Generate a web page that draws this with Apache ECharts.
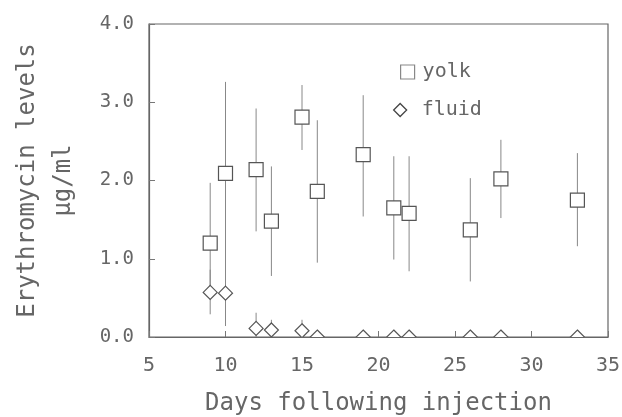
<!DOCTYPE html>
<html>
<head>
<meta charset="utf-8">
<script src="https://cdn.jsdelivr.net/npm/echarts@6/dist/echarts.min.js"></script>
<style>
  html, body { margin: 0; padding: 0; background: #fff; }
  #chart { width: 622px; height: 417px; }
</style>
</head>
<body>
<div id="chart"></div>
<script>
// yolk: mean with low/high of the error bar
const yolkDays = [9, 10, 12, 13, 15, 16, 19, 21, 22, 26, 28, 33];
const yolkMean = [1.2, 2.09, 2.14, 1.48, 2.81, 1.86, 2.33, 1.65, 1.58, 1.37, 2.02, 1.75];
const yolkLow = [0.5, 0.92, 1.35, 0.78, 2.39, 0.95, 1.54, 0.99, 0.84, 0.71, 1.52, 1.16];
const yolkHigh = [1.97, 3.26, 2.92, 2.18, 3.22, 2.77, 3.09, 2.31, 2.31, 2.03, 2.52, 2.35];

// fluid
const fluidDays = [9, 10, 12, 13, 15, 16, 19, 21, 22, 26, 28, 33];
const fluidMean = [0.57, 0.56, 0.11, 0.09, 0.08, 0, 0, 0, 0, 0, 0, 0];
const fluidLow = [0.29, 0.14, 0, 0, 0, 0, 0, 0, 0, 0, 0, 0];
const fluidHigh = [0.86, 0.98, 0.31, 0.22, 0.22, 0, 0, 0, 0, 0, 0, 0];

const xTicks = [5, 10, 15, 20, 25, 30, 35];
const yTicks = [0, 1, 2, 3, 4];

const FONT = "DejaVu Sans Mono";
const INK = "#666";

function rows(days, mean, low, high) {
  return days.map((d, i) => [d, mean[i], low[i], high[i]]);
}

// error bar + hollow marker, cut off at the plot frame
function makeRender(shape) {
  return function (params, api) {
    const cs = params.coordSys;
    const x = api.value(0);
    const pm = api.coord([x, api.value(1)]);
    const pl = api.coord([x, api.value(2)]);
    const ph = api.coord([x, api.value(3)]);
    const s = 7;
    const markerStyle = { fill: "#fff", stroke: "#555", lineWidth: 1.2 };
    let marker;
    if (shape === "rect") {
      marker = {
        type: "rect",
        shape: { x: pm[0] - s, y: pm[1] - s, width: 2 * s, height: 2 * s },
        style: markerStyle,
      };
    } else {
      marker = {
        type: "polygon",
        shape: {
          points: [
            [pm[0], pm[1] - s],
            [pm[0] + s, pm[1]],
            [pm[0], pm[1] + s],
            [pm[0] - s, pm[1]],
          ],
        },
        style: markerStyle,
      };
    }
    return {
      type: "group",
      clipPath: {
        type: "rect",
        shape: { x: cs.x, y: cs.y, width: cs.width, height: cs.height },
      },
      children: [
        {
          type: "line",
          shape: { x1: pl[0], y1: pl[1], x2: ph[0], y2: ph[1] },
          style: { stroke: "#888", lineWidth: 1 },
        },
        marker,
      ],
    };
  };
}

const chart = echarts.init(document.getElementById("chart"));
chart.setOption({
  backgroundColor: "#fff",
  animation: false,
  textStyle: { fontFamily: FONT, color: INK },
  grid: {
    left: 149,
    right: 14,
    top: 24,
    bottom: 80,
    outerBoundsMode: "none",
    containLabel: false,
    show: true,
    borderColor: "#666",
    borderWidth: 1.2,
  },
  legend: [
    {
      left: 395,
      top: 57,
      itemWidth: 14,
      itemHeight: 14,
      textStyle: { fontFamily: FONT, fontSize: 20, color: INK, padding: [0, 0, 0, 3] },
      data: [
        {
          name: "yolk",
          icon: "rect",
          itemStyle: { color: "#fff", borderColor: "#888", borderWidth: 1.2 },
        },
      ],
    },
    {
      left: 388,
      top: 95,
      itemWidth: 13,
      itemHeight: 13,
      textStyle: { fontFamily: FONT, fontSize: 20, color: INK, padding: [0, 0, 0, 10] },
      data: [
        {
          name: "fluid",
          icon: "diamond",
          itemStyle: { color: "#fff", borderColor: "#444", borderWidth: 1.3 },
        },
      ],
    },
  ],
  xAxis: {
    type: "value",
    min: xTicks[0],
    max: xTicks[xTicks.length - 1],
    interval: 5,
    name: "Days following injection",
    nameLocation: "middle",
    nameGap: 55,
    nameTextStyle: { fontFamily: FONT, fontSize: 24, color: INK },
    axisLine: { show: true, lineStyle: { color: "#666", width: 1.2 } },
    axisTick: { show: true, inside: true, length: 6, lineStyle: { color: "#777" } },
    axisLabel: { fontFamily: FONT, fontSize: 20, color: INK, margin: 19 },
    splitLine: { show: false },
  },
  yAxis: {
    type: "value",
    min: yTicks[0],
    max: yTicks[yTicks.length - 1],
    interval: 1,
    name: "Erythromycin levels\nμg/ml",
    nameLocation: "middle",
    nameRotate: 90,
    nameGap: 67,
    nameTextStyle: { fontFamily: FONT, fontSize: 24, color: INK, lineHeight: 36 },
    axisLine: { show: true, lineStyle: { color: "#666", width: 1.2 } },
    axisTick: { show: true, inside: true, length: 6, lineStyle: { color: "#777" } },
    axisLabel: {
      fontFamily: FONT,
      fontSize: 19,
      color: INK,
      margin: 15,
      formatter: (v) => v.toFixed(1),
    },
    splitLine: { show: false },
  },
  series: [
    {
      name: "yolk",
      type: "custom",
      renderItem: makeRender("rect"),
      encode: { x: 0, y: [1, 2, 3] },
      data: rows(yolkDays, yolkMean, yolkLow, yolkHigh),
    },
    {
      name: "fluid",
      type: "custom",
      renderItem: makeRender("diamond"),
      encode: { x: 0, y: [1, 2, 3] },
      data: rows(fluidDays, fluidMean, fluidLow, fluidHigh),
    },
  ],
});
</script>
</body>
</html>
